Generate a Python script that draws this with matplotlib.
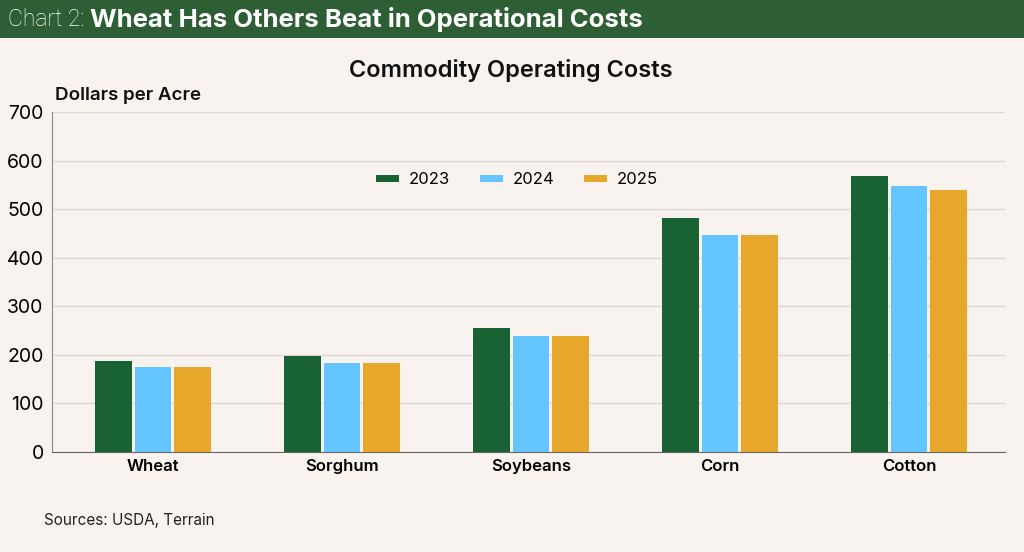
import matplotlib.pyplot as plt
import numpy as np
from matplotlib.patches import Rectangle

# Commodity operating costs, dollars per acre
crops = ["Wheat", "Sorghum", "Soybeans", "Corn", "Cotton"]
years = ["2023", "2024", "2025"]
cost_2023 = [187, 198, 255, 481, 569]
cost_2024 = [175, 183, 239, 447, 547]
cost_2025 = [175, 183, 239, 447, 539]
yticks = [0, 100, 200, 300, 400, 500, 600, 700]

colors = ["#186234", "#64C5FF", "#E6A72B"]
bg = "#F8F3EF"

plt.rcParams["font.family"] = ["Inter", "DejaVu Sans"]

fig = plt.figure(figsize=(10.24, 5.52), dpi=100)
fig.patch.set_facecolor(bg)

# header band
fig.patches.append(Rectangle((0, 1 - 38 / 552), 1, 38 / 552, transform=fig.transFigure,
                             facecolor="#2D5E34", edgecolor="none", zorder=0))
lead = fig.text(8 / 1024, 1 - 19 / 552, "Chart 2:", color="white", fontsize=16.5, va="center",
                ha="left", fontweight="light", family=["Roboto", "DejaVu Sans"])
fig.canvas.draw()
lead_end = lead.get_window_extent().x1
fig.text((lead_end + 5) / 1024, 1 - 19 / 552, "Wheat Has Others Beat in Operational Costs",
         color="white", fontsize=18.5, fontweight="bold", va="center", ha="left")

ax = fig.add_axes([52 / 1024, 1 - 452 / 552, 953 / 1024, 340 / 552])
ax.set_facecolor(bg)

x = np.arange(len(crops))
w = 0.195
step = 0.21
for i, (vals, yr) in enumerate(zip([cost_2023, cost_2024, cost_2025], years)):
    ax.bar(x + (i - 1) * step, vals, width=w, color=colors[i], label=yr, zorder=3)

ax.set_xlim(-0.534, 4.508)
ax.set_ylim(0, 700)
ax.set_yticks(yticks)
ax.set_xticks(x)
ax.set_xticklabels(crops, fontweight="semibold", fontsize=12)
ax.tick_params(axis="y", labelsize=14, length=0, pad=6)
ax.tick_params(axis="x", length=0, pad=5)
ax.grid(axis="y", color="#DDD7D3", linewidth=1, zorder=0)
for s in ["top", "right"]:
    ax.spines[s].set_visible(False)
ax.spines["left"].set_color("#888888")
ax.spines["bottom"].set_color("#666666")

ax.legend(loc="center", bbox_to_anchor=(0.488, 0.80), ncol=3, frameon=False,
          fontsize=12, handlelength=1.4, handleheight=0.35, columnspacing=1.75,
          handletextpad=0.6)

fig.text(511 / 1024, 1 - 70 / 552, "Commodity Operating Costs", ha="center", va="center",
         fontsize=17, fontweight="semibold", color="#111111")
fig.text(55 / 1024, 1 - 95 / 552, "Dollars per Acre", ha="left", va="center",
         fontsize=13.5, fontweight="semibold", color="#111111")
fig.text(44 / 1024, 1 - 521 / 552, "Sources: USDA, Terrain", ha="left", va="center",
         fontsize=11, color="#222222")

fig.savefig("out.png", dpi=100, facecolor=bg)
